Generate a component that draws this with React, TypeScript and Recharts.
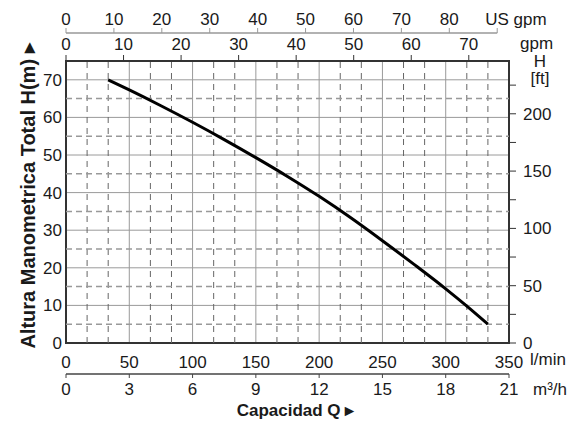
import React from 'react';
import { LineChart, Line, XAxis, YAxis, CartesianGrid, ReferenceLine, ReferenceArea } from 'recharts';

// pump curve: flow in l/min, head in m
const flowLpm = [33.3, 50, 75, 100, 125, 150, 175, 200, 225, 250, 275, 300, 316.7, 333.3];
const headM = [70, 67.3, 63.1, 58.7, 54.1, 49.3, 44.3, 39.0, 33.3, 27.2, 20.9, 14.4, 9.8, 5];

const lpmTicks = [0, 50, 100, 150, 200, 250, 300, 350];
const m3hTicks = [0, 3, 6, 9, 12, 15, 18, 21];
const m3hMinor = [1, 2, 4, 5, 7, 8, 10, 11, 13, 14, 16, 17, 19, 20];
const usGpmTicks = [0, 10, 20, 30, 40, 50, 60, 70, 80, 90];
const gpmTicks = [0, 10, 20, 30, 40, 50, 60, 70];
const headTicks = [0, 10, 20, 30, 40, 50, 60, 70];
const headMinor = [5, 15, 25, 35, 45, 55, 65];
const ftTicks = [0, 25, 50, 75, 100, 125, 150, 175, 200, 225];

const LPM_MAX = 350;
const H_MAX = 75;
const L_PER_USGAL = 3.78541;
const L_PER_IMPGAL = 4.54609;
const M_PER_FT = 0.3048;

const data = flowLpm.map((q, i) => ({ q, h: headM[i] }));

const FONT = '"Liberation Sans", Arial, Helvetica, sans-serif';
const TXT = '#1a1a1a';
const tickStyle = { fontSize: 17, fontFamily: FONT, fill: TXT };

const PLOT_W = 443;
// US gpm scale line stops at the 90 tick
const usLineLen = ((90 * L_PER_USGAL) / LPM_MAX) * PLOT_W;

function UsGpmTick({ x, y, payload }: any) {
  const last = payload.value === 90;
  return (
    <text x={last ? x - 12 : x} y={y} textAnchor={last ? 'start' : 'middle'} {...tickStyle}>
      {last ? 'US gpm' : payload.value}
    </text>
  );
}

function FtTitle(props: any) {
  const vb = props.viewBox || { x: 509, y: 61, width: 56 };
  const cx = vb.x + vb.width / 2 + 3;
  return (
    <text x={cx} y={vb.y} textAnchor="middle" {...tickStyle}>
      <tspan x={cx} dy={6}>H</tspan>
      <tspan x={cx} dy={17}>[ft]</tspan>
    </text>
  );
}

export default function App() {
  return (
    <div style={{ position: 'absolute', left: 0, top: 0, background: '#fff' }}>
      <LineChart width={584} height={423} data={data} margin={{ top: 5, right: 19, bottom: 7, left: 0 }}>
        <XAxis
          xAxisId="b1_lmin"
          dataKey="q"
          type="number"
          domain={[0, LPM_MAX]}
          allowDataOverflow
          ticks={lpmTicks}
          orientation="bottom"
          height={31}
          axisLine={false}
          tickLine={false}
          tickSize={6}
          tickMargin={7}
          tick={tickStyle}
          label={{ value: 'l/min', position: 'right', offset: 21, ...tickStyle }}
        />
        <XAxis
          xAxisId="b2_m3h"
          dataKey={(d: any) => (d.q * 60) / 1000}
          type="number"
          domain={[0, 21]}
          allowDataOverflow
          ticks={m3hTicks}
          orientation="bottom"
          height={30}
          axisLine={{ stroke: '#444', strokeWidth: 1.5 }}
          tickLine={{ stroke: '#444' }}
          tickSize={4}
          tickMargin={5}
          tick={tickStyle}
          label={{ value: 'm³/h', position: 'right', offset: 24, ...tickStyle }}
        />
        <XAxis
          xAxisId="b3_cap"
          dataKey="q"
          type="number"
          domain={[0, LPM_MAX]}
          allowDataOverflow
          orientation="bottom"
          height={12}
          axisLine={false}
          tickLine={false}
          tick={false}
          label={{ value: 'Capacidad Q ▸', position: 'center', ...tickStyle, fontWeight: 'bold', dx: 8 }}
        />
        <XAxis
          xAxisId="t1_gpm"
          dataKey={(d: any) => d.q / L_PER_IMPGAL}
          type="number"
          domain={[0, LPM_MAX / L_PER_IMPGAL]}
          allowDataOverflow
          ticks={gpmTicks}
          orientation="top"
          height={28}
          axisLine={false}
          tickLine={{ stroke: '#333' }}
          tickSize={6}
          tickMargin={5}
          tick={tickStyle}
          label={{ value: 'gpm', position: 'right', offset: 11, ...tickStyle, dy: -4 }}
        />
        <XAxis
          xAxisId="t2_usgpm"
          dataKey={(d: any) => d.q / L_PER_USGAL}
          type="number"
          domain={[0, LPM_MAX / L_PER_USGAL]}
          allowDataOverflow
          ticks={usGpmTicks}
          orientation="top"
          height={28}
          axisLine={{ stroke: '#999', strokeWidth: 1.5, strokeDasharray: `${usLineLen} 1000` }}
          tickLine={{ stroke: '#999' }}
          tickSize={5}
          tickMargin={3}
          tick={<UsGpmTick />}
        />
        <YAxis
          yAxisId="l1_m"
          type="number"
          domain={[0, H_MAX]}
          allowDataOverflow
          ticks={headTicks}
          orientation="left"
          width={10}
          axisLine={false}
          tickLine={false}
          tickSize={2}
          tickMargin={2}
          tick={tickStyle}
        />
        <YAxis
          yAxisId="l2_title"
          type="number"
          domain={[0, 1]}
          allowDataOverflow
          orientation="left"
          width={56}
          axisLine={false}
          tickLine={false}
          tick={false}
          label={{ value: 'Altura Manometrica Total H(m) ▸', angle: -90, position: 'center', ...tickStyle, fontSize: 20, fontWeight: 'bold', dy: -6 }}
        />
        <YAxis
          yAxisId="r1_ft"
          type="number"
          domain={[0, H_MAX / M_PER_FT]}
          allowDataOverflow
          ticks={ftTicks}
          orientation="right"
          width={56}
          axisLine={false}
          tickLine={{ stroke: '#333' }}
          tickSize={7}
          tickMargin={7}
          tick={tickStyle}
          tickFormatter={(v: number) => (v % 50 === 0 ? String(v) : '')}
          label={(p: any) => <FtTitle {...p} />}
        />

        <CartesianGrid xAxisId="b1_lmin" yAxisId="l1_m" stroke="#9a9a9a" strokeWidth={1} />
        {m3hMinor.map((v) => (
          <ReferenceLine
            key={'vx' + v}
            xAxisId="b2_m3h"
            yAxisId="l1_m"
            x={v}
            stroke="#666"
            strokeWidth={1}
            strokeDasharray="6 5"
          />
        ))}
        {headMinor.map((v) => (
          <ReferenceLine
            key={'hy' + v}
            xAxisId="b1_lmin"
            yAxisId="l1_m"
            y={v}
            stroke="#999"
            strokeWidth={1.5}
            strokeDasharray="6 4"
          />
        ))}
        <ReferenceArea
          xAxisId="b1_lmin"
          yAxisId="l1_m"
          x1={0}
          x2={LPM_MAX}
          y1={0}
          y2={H_MAX}
          fill="none"
          stroke="#333"
          strokeWidth={2}
        />
        <Line
          xAxisId="b1_lmin"
          yAxisId="l1_m"
          dataKey="h"
          type="monotone"
          stroke="#000"
          strokeWidth={3}
          dot={false}
          isAnimationActive={false}
        />
      </LineChart>
    </div>
  );
}
